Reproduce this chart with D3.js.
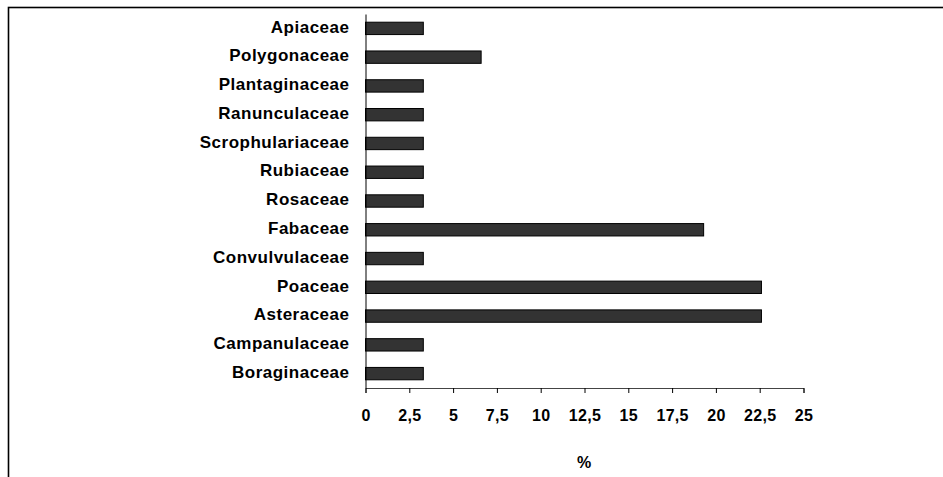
<!DOCTYPE html>
<html>
<head>
<meta charset="utf-8">
<script src="https://cdn.jsdelivr.net/npm/d3@7"></script>
<style>
  html, body { margin: 0; padding: 0; background: #fff; }
  svg { display: block; }
  text { font-family: "Liberation Sans", Arial, Helvetica, sans-serif; font-weight: bold; fill: #000; }
</style>
</head>
<body>
<svg id="chart" width="943" height="477"></svg>
<script>
const categories = ["Apiaceae", "Polygonaceae", "Plantaginaceae", "Ranunculaceae", "Scrophulariaceae",
  "Rubiaceae", "Rosaceae", "Fabaceae", "Convulvulaceae", "Poaceae", "Asteraceae", "Campanulaceae", "Boraginaceae"];
const values = [3.3, 6.6, 3.3, 3.3, 3.3, 3.3, 3.3, 19.3, 3.3, 22.6, 22.6, 3.3, 3.3];
const xTicks = [0, 2.5, 5, 7.5, 10, 12.5, 15, 17.5, 20, 22.5, 25];
const xTitle = "%";

(function () {
const svg = d3.select("#chart");

// frame
svg.append("rect")
  .attr("x", 8.5).attr("y", 7.5)
  .attr("width", 1000).attr("height", 1000)
  .attr("fill", "none").attr("stroke", "#000").attr("stroke-width", 1.6);

const plotLeft = 365.5, plotRight = 803.5, plotTop = 14, plotBottom = 388;

const x = d3.scaleLinear().domain([0, 25]).range([plotLeft, plotRight]);
const y = d3.scaleBand().domain(categories).range([plotTop, plotBottom])
  .paddingInner(0.57).paddingOuter(0.285);

// bars
svg.append("g").selectAll("rect")
  .data(categories)
  .join("rect")
  .attr("x", x(0))
  .attr("y", d => y(d))
  .attr("width", (d, i) => x(values[i]) - x(0))
  .attr("height", y.bandwidth())
  .attr("fill", "#333333")
  .attr("stroke", "#000")
  .attr("stroke-width", 1);

// x axis
const xAxis = d3.axisBottom(x)
  .tickValues(xTicks)
  .tickSize(5)
  .tickPadding(17)
  .tickFormat(d => String(d).replace(".", ","));
const gx = svg.append("g").attr("transform", `translate(0,${plotBottom})`).call(xAxis);
gx.select(".domain").attr("stroke", "#444").attr("stroke-width", 1);
gx.selectAll(".tick line").attr("stroke", "#000");
gx.selectAll(".tick text")
  .style("font-size", "16px").style("font-weight", "bold")
  .style("font-family", '"Liberation Sans", Arial, sans-serif')
  .style("letter-spacing", "0.3px")
  .attr("fill", "#000");

// y axis
const yAxis = d3.axisLeft(y).tickSize(0).tickPadding(16);
const gy = svg.append("g").attr("transform", `translate(${plotLeft},0)`).call(yAxis);
gy.select(".domain").attr("stroke", "#000").attr("stroke-width", 1);
gy.selectAll(".tick text")
  .attr("dy", "0.25em")
  .style("font-size", "17px").style("font-weight", "bold")
  .style("font-family", '"Liberation Sans", Arial, sans-serif')
  .style("letter-spacing", "0.5px")
  .attr("fill", "#000");

// x title
svg.append("text")
  .attr("x", 584).attr("y", 468)
  .attr("text-anchor", "middle")
  .style("font-size", "16px")
  .text(xTitle);
})();
</script>
</body>
</html>
